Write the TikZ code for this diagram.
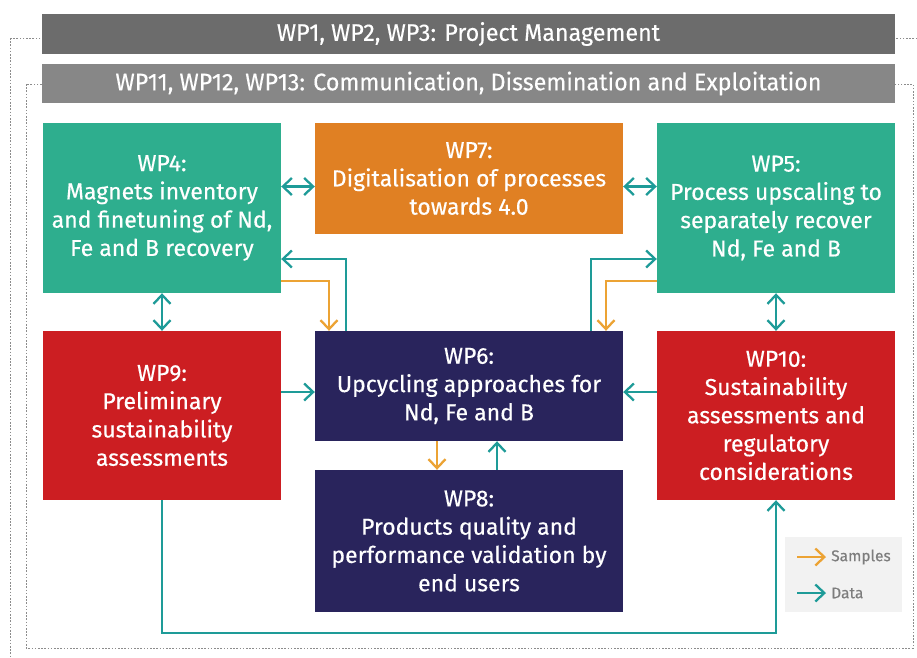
\documentclass[tikz,border=0pt]{standalone}
\usepackage{fontspec}
\setmainfont{Fira Sans}
\newfontfamily\boxfont{Fira Sans}[FakeBold=0.4]
\newfontfamily\barfont{Fira Sans}[FakeStretch=0.97,FakeBold=0.3]
\usetikzlibrary{arrows.meta}

\definecolor{wpgreen}{RGB}{46,174,142}
\definecolor{wporange}{RGB}{224,128,35}
\definecolor{wpred}{RGB}{204,30,34}
\definecolor{wpnavy}{RGB}{41,36,92}
\definecolor{bardark}{RGB}{108,108,108}
\definecolor{barlight}{RGB}{135,135,135}
\definecolor{datacol}{RGB}{30,155,152}
\definecolor{samplecol}{RGB}{236,163,52}
\definecolor{legbg}{RGB}{242,242,242}
\definecolor{legfg}{RGB}{125,125,125}
\definecolor{framecol}{RGB}{140,140,140}

\begin{document}
\begin{tikzpicture}[x=1pt,y=-1pt,
  >={Straight Barb[length=9pt,width=17pt]},
  wpbox/.style={inner sep=0pt, align=center, text=white,
    font=\boxfont\fontsize{23}{28.3}\selectfont},
  sidebox/.style={minimum width=238pt, minimum height=170pt},
  midbox/.style={minimum width=308pt},
  wpbar/.style={inner sep=0pt, text=white, minimum width=853pt,
    font=\barfont\fontsize{24}{26}\selectfont},
  frameline/.style={draw=framecol, line width=1pt, dash pattern=on 1.6pt off 1.6pt},
  dataline/.style={draw=datacol, line width=2.3pt},
  sampleline/.style={draw=samplecol, line width=2.3pt},
  legtext/.style={inner sep=0pt, text=legfg, font=\boxfont\fontsize{15.5}{18}\selectfont}]

\clip (0,0) rectangle (917,657);
\fill[white] (0,0) rectangle (917,657);

% dotted outlines of the two management levels
\draw[frameline] (10,38) rectangle (960,700);
\draw[frameline] (26,84) rectangle (913,648);

% horizontal work packages
\node[wpbar, fill=bardark, minimum height=40pt] (pm) at (468.5,34)
  {WP1, WP2, WP3: Project Management};
\node[wpbar, fill=barlight, minimum height=39pt] (ced) at (468.5,83.5)
  {WP11, WP12, WP13: Communication, Dissemination and Exploitation};

% technical work packages
\node[wpbox, sidebox, fill=wpgreen] (wp4) at (162,208)
  {WP4:\\Magnets inventory\\and finetuning of Nd,\\Fe and B recovery};
\node[wpbox, midbox, minimum height=111pt, fill=wporange] (wp7) at (469,178.5)
  {WP7:\\Digitalisation of processes\\towards 4.0};
\node[wpbox, sidebox, fill=wpgreen] (wp5) at (776,208)
  {WP5:\\Process upscaling to\\separately recover\\Nd, Fe and B};
\node[wpbox, sidebox, minimum height=169pt, fill=wpred] (wp9) at (162,415.5)
  {WP9:\\Preliminary\\sustainability\\assessments};
\node[wpbox, midbox, minimum height=110pt, fill=wpnavy] (wp6) at (469,386)
  {WP6:\\Upcycling approaches for\\Nd, Fe and B};
\node[wpbox, midbox, minimum height=142pt, fill=wpnavy] (wp8) at (469,541)
  {WP8:\\Products quality and\\performance validation by\\end users};
\node[wpbox, sidebox, minimum height=169pt, fill=wpred] (wp10) at (776,415.5)
  {WP10:\\Sustainability\\assessments and\\regulatory\\considerations};

% data exchange with WP7
\coordinate (w7l) at ([yshift=-8pt]wp7.west);
\coordinate (w7r) at ([yshift=-8pt]wp7.east);
\draw[dataline,<->] (w7l -| wp4.east) -- (w7l);
\draw[dataline,<->] (w7r) -- (w7r -| wp5.west);

% vertical links between recovery and sustainability packages
\draw[dataline,<->] (wp4.south) -- (wp9.north);
\draw[dataline,<->] (wp5.south) -- (wp10.north);

% assessments feeding upcycling
\coordinate (w6l) at ([yshift=-6pt]wp6.west);
\coordinate (w6r) at ([yshift=-6pt]wp6.east);
\draw[dataline,->] (w6l -| wp9.east) -- (w6l);
\draw[dataline,->] (w6r -| wp10.west) -- (w6r);

% upcycling <-> validation
\draw[sampleline,->] ([xshift=-32pt]wp6.south) -- ([xshift=-32pt]wp8.north);
\draw[dataline,->] ([xshift=28pt]wp8.north) -- ([xshift=28pt]wp6.south);

% loops between recovery and upcycling
\draw[dataline,->] ([xshift=-123pt]wp6.north) |- ([yshift=-51pt]wp4.east);
\draw[sampleline,->] ([yshift=-73pt]wp4.east) -| ([xshift=-140pt]wp6.north);
\draw[dataline,->] ([xshift=122pt]wp6.north) |- ([yshift=-51pt]wp5.west);
\draw[sampleline,->] ([yshift=-73pt]wp5.west) -| ([xshift=137pt]wp6.north);

% preliminary to final assessment
\draw[dataline,->] (wp9.south) -- ([yshift=-133pt]wp9.south) -| (wp10.south);

% legend
\node[fill=legbg, inner sep=0pt, minimum width=117pt, minimum height=75pt] (legend) at (843.5,574.5) {};
\node[legtext, anchor=west] (lsamples) at (831,557) {Samples};
\node[legtext, anchor=west] (ldata) at (831,593) {Data};
\draw[sampleline,->] ([xshift=-34pt]lsamples.west) -- ([xshift=-5pt]lsamples.west);
\draw[dataline,->] ([xshift=-34pt]ldata.west) -- ([xshift=-5pt]ldata.west);
\end{tikzpicture}
\end{document}
